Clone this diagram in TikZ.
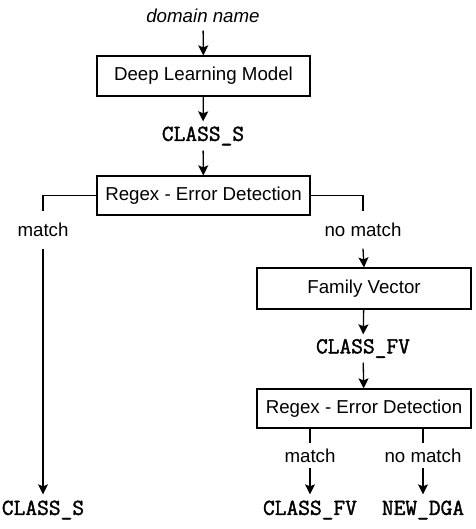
\documentclass[tikz,border=0pt]{standalone}
\usepackage{fontspec}
\setmainfont{Liberation Sans}
\newfontfamily\monof[FakeBold=1.6]{Latin Modern Mono}
\usetikzlibrary{arrows.meta}
\begin{document}
\begin{tikzpicture}[x=1pt,y=-1pt,
  line width=1.3pt,
  >={Stealth[length=10pt,width=10pt,inset=2pt]},
  proc/.style={draw,line width=1.2pt,minimum width=213pt,minimum height=40pt,inner sep=0pt,
    font=\fontsize{18.7}{22}\selectfont},
  lab/.style={inner sep=0pt,font=\fontsize{18.7}{22}\selectfont},
  code/.style={inner sep=0pt,font=\monof\fontsize{22.8}{24}\selectfont}]
\useasboundingbox (0,0) rectangle (475,529);
\node[lab,minimum height=28pt,font=\itshape\fontsize{18.7}{22}\selectfont] (dn) at (203,16) {domain name};
\node[proc] (dlm) at (203.5,76) {Deep Learning Model};
\node[code,minimum height=28pt] (cs) at (203,136) {CLASS\_S};
\node[proc,minimum height=39pt] (re1) at (203.5,195.5) {Regex - Error Detection};
\node[lab,minimum height=36pt] (m1) at (43,230) {match};
\node[lab,minimum height=36pt] (nm1) at (363,230) {no match};
\node[proc,minimum width=214pt,minimum height=41pt] (fv) at (364,288.5) {Family Vector};
\node[code,minimum height=27pt] (cfv) at (363,348.5) {CLASS\_FV};
\node[proc,minimum width=214pt,minimum height=39pt] (re2) at (364,408.5) {Regex - Error Detection};
\node[lab,minimum height=24pt] (m2) at (310,455.5) {match};
\node[lab,minimum height=24pt] (nm2) at (423,455.5) {no match};
\node[code,minimum height=30pt] (o1) at (43,510) {CLASS\_S};
\node[code,minimum height=30pt] (o2) at (310,510) {CLASS\_FV};
\node[code,minimum height=30pt] (o3) at (423,510) {NEW\_DGA};
\draw[->] (dn) -- (dlm);
\draw[->] (dlm) -- (cs);
\draw[->] (cs) -- (re1);
\draw (re1.west) -| (m1.north);
\draw[->] (m1.south) -- (o1.north);
\draw (re1.east) -| (nm1.north);
\draw[->] (nm1.south) -- (fv.north);
\draw[->] (fv) -- (cfv);
\draw[->] (cfv) -- (re2);
\draw (re2.south -| m2.north) -- (m2.north);
\draw[->] (m2.south) -- (o2.north);
\draw (re2.south -| nm2.north) -- (nm2.north);
\draw[->] (nm2.south) -- (o3.north);
\end{tikzpicture}
\end{document}
